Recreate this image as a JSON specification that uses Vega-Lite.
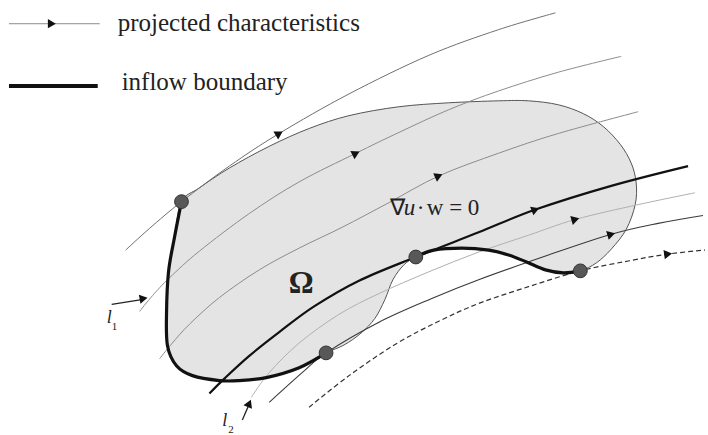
{
  "$schema": "https://vega.github.io/schema/vega-lite/v6.json",
  "width": 708,
  "height": 435,
  "padding": 0,
  "autosize": {"type": "fit", "contains": "padding"},
  "background": "white",
  "config": {"view": {"stroke": null}},
  "datasets": {
    "domain": [
      {"i":0,"x":182,"y":204},{"i":1,"x":200,"y":190},{"i":2,"x":230,"y":170},{"i":3,"x":270,"y":148},{"i":4,"x":310,"y":130},{"i":5,"x":350,"y":117},{"i":6,"x":400,"y":108},{"i":7,"x":450,"y":104},{"i":8,"x":500,"y":102},{"i":9,"x":530,"y":102},{"i":10,"x":560,"y":106},{"i":11,"x":585,"y":115},{"i":12,"x":605,"y":128},{"i":13,"x":622,"y":146},{"i":14,"x":633,"y":165},{"i":15,"x":638,"y":185},{"i":16,"x":637,"y":207},{"i":17,"x":628,"y":232},{"i":18,"x":613,"y":252},{"i":19,"x":598,"y":266},{"i":20,"x":582,"y":274},{"i":21,"x":565,"y":277},{"i":22,"x":547,"y":273},{"i":23,"x":528,"y":265},{"i":24,"x":510,"y":258},{"i":25,"x":490,"y":253},{"i":26,"x":463,"y":251},{"i":27,"x":435,"y":253},{"i":28,"x":417,"y":260},{"i":29,"x":405,"y":268},{"i":30,"x":394,"y":283},{"i":31,"x":386,"y":303},{"i":32,"x":376,"y":322},{"i":33,"x":362,"y":337},{"i":34,"x":345,"y":349},{"i":35,"x":327,"y":357},{"i":36,"x":300,"y":372},{"i":37,"x":267,"y":382},{"i":38,"x":240,"y":385},{"i":39,"x":220,"y":385},{"i":40,"x":193,"y":380},{"i":41,"x":177,"y":370},{"i":42,"x":168,"y":350},{"i":43,"x":167,"y":317},{"i":44,"x":169,"y":275},{"i":45,"x":175,"y":240}
    ],
    "lines": [
      {"id":"L1","i":0,"x":126,"y":253},{"id":"L1","i":1,"x":150,"y":231},{"id":"L1","i":2,"x":182,"y":204},{"id":"L1","i":3,"x":230,"y":168},{"id":"L1","i":4,"x":280,"y":135},{"id":"L1","i":5,"x":350,"y":95},{"id":"L1","i":6,"x":430,"y":56},{"id":"L1","i":7,"x":500,"y":30},{"id":"L1","i":8,"x":557,"y":13},
      {"id":"La","i":0,"x":140,"y":315},{"id":"La","i":1,"x":153,"y":299},{"id":"La","i":2,"x":170,"y":281},{"id":"La","i":3,"x":200,"y":254},{"id":"La","i":4,"x":250,"y":216},{"id":"La","i":5,"x":300,"y":184},{"id":"La","i":6,"x":357,"y":155},{"id":"La","i":7,"x":400,"y":134},{"id":"La","i":8,"x":450,"y":111},{"id":"La","i":9,"x":500,"y":92},{"id":"La","i":10,"x":560,"y":73},{"id":"La","i":11,"x":623,"y":57},
      {"id":"Lb","i":0,"x":160,"y":363},{"id":"Lb","i":1,"x":172,"y":348},{"id":"Lb","i":2,"x":190,"y":328},{"id":"Lb","i":3,"x":220,"y":301},{"id":"Lb","i":4,"x":260,"y":273},{"id":"Lb","i":5,"x":300,"y":251},{"id":"Lb","i":6,"x":343,"y":230},{"id":"Lb","i":7,"x":390,"y":205},{"id":"Lb","i":8,"x":440,"y":178},{"id":"Lb","i":9,"x":500,"y":155},{"id":"Lb","i":10,"x":560,"y":135},{"id":"Lb","i":11,"x":640,"y":113},
      {"id":"Lc","i":0,"x":252,"y":402},{"id":"Lc","i":1,"x":270,"y":377},{"id":"Lc","i":2,"x":300,"y":347},{"id":"Lc","i":3,"x":340,"y":318},{"id":"Lc","i":4,"x":380,"y":297},{"id":"Lc","i":5,"x":430,"y":275},{"id":"Lc","i":6,"x":480,"y":255},{"id":"Lc","i":7,"x":530,"y":238},{"id":"Lc","i":8,"x":577,"y":222},{"id":"Lc","i":9,"x":640,"y":207},{"id":"Lc","i":10,"x":697,"y":195},
      {"id":"Ld","i":0,"x":270,"y":407},{"id":"Ld","i":1,"x":303,"y":377},{"id":"Ld","i":2,"x":327,"y":357},{"id":"Ld","i":3,"x":380,"y":326},{"id":"Ld","i":4,"x":433,"y":302},{"id":"Ld","i":5,"x":480,"y":283},{"id":"Ld","i":6,"x":550,"y":258},{"id":"Ld","i":7,"x":613,"y":237},{"id":"Ld","i":8,"x":660,"y":226},{"id":"Ld","i":9,"x":705,"y":218},
      {"id":"Dash","i":0,"x":310,"y":412},{"id":"Dash","i":1,"x":350,"y":380},{"id":"Dash","i":2,"x":397,"y":348},{"id":"Dash","i":3,"x":440,"y":325},{"id":"Dash","i":4,"x":480,"y":307},{"id":"Dash","i":5,"x":530,"y":290},{"id":"Dash","i":6,"x":582,"y":274},{"id":"Dash","i":7,"x":630,"y":264},{"id":"Dash","i":8,"x":670,"y":257},{"id":"Dash","i":9,"x":707,"y":253},
      {"id":"Grad","i":0,"x":210,"y":398},{"id":"Grad","i":1,"x":225,"y":383},{"id":"Grad","i":2,"x":250,"y":360},{"id":"Grad","i":3,"x":280,"y":336},{"id":"Grad","i":4,"x":315,"y":310},{"id":"Grad","i":5,"x":360,"y":284},{"id":"Grad","i":6,"x":417,"y":260},{"id":"Grad","i":7,"x":480,"y":235},{"id":"Grad","i":8,"x":537,"y":212},{"id":"Grad","i":9,"x":613,"y":188},{"id":"Grad","i":10,"x":690,"y":168},
      {"id":"InA","i":0,"x":417,"y":260},{"id":"InA","i":1,"x":435,"y":253},{"id":"InA","i":2,"x":463,"y":251},{"id":"InA","i":3,"x":490,"y":253},{"id":"InA","i":4,"x":510,"y":258},{"id":"InA","i":5,"x":528,"y":265},{"id":"InA","i":6,"x":547,"y":273},{"id":"InA","i":7,"x":565,"y":276},{"id":"InA","i":8,"x":582,"y":274},
      {"id":"InB","i":0,"x":327,"y":357},{"id":"InB","i":1,"x":300,"y":372},{"id":"InB","i":2,"x":267,"y":382},{"id":"InB","i":3,"x":240,"y":385},{"id":"InB","i":4,"x":220,"y":385},{"id":"InB","i":5,"x":193,"y":380},{"id":"InB","i":6,"x":177,"y":370},{"id":"InB","i":7,"x":168,"y":350},{"id":"InB","i":8,"x":167,"y":317},{"id":"InB","i":9,"x":169,"y":275},{"id":"InB","i":10,"x":175,"y":240},{"id":"InB","i":11,"x":182,"y":204},
      {"id":"LegThin","i":0,"x":9,"y":24},{"id":"LegThin","i":1,"x":100,"y":24},
      {"id":"LegThick","i":0,"x":9,"y":87},{"id":"LegThick","i":1,"x":98,"y":87},
      {"id":"Ar1","i":0,"x":112,"y":308},{"id":"Ar1","i":1,"x":142,"y":303},
      {"id":"Ar2","i":0,"x":243,"y":425},{"id":"Ar2","i":1,"x":249,"y":411}
    ],
    "nodes": [
      {"x":182,"y":204},{"x":417,"y":260},{"x":582,"y":274},{"x":327,"y":357}
    ],
    "arrows": [
      {"x":52,"y":24,"heading":0},
      {"x":280,"y":135,"heading":-31},
      {"x":357,"y":155,"heading":-27},
      {"x":440,"y":178,"heading":-24},
      {"x":537,"y":212,"heading":-21},
      {"x":577,"y":222,"heading":-16},
      {"x":613,"y":237,"heading":-16},
      {"x":670,"y":257,"heading":-8},
      {"x":144,"y":302,"heading":-10},
      {"x":250,"y":408,"heading":-67}
    ]
  },
  "encoding": {
    "x": {"field": "x", "type": "quantitative", "scale": {"domain": [0, 708], "nice": false, "zero": false}, "axis": null},
    "y": {"field": "y", "type": "quantitative", "scale": {"domain": [0, 435], "reverse": true, "nice": false, "zero": false}, "axis": null}
  },
  "layer": [
    {
      "data": {"name": "domain"},
      "mark": {"type": "line", "fill": "#e4e4e4", "stroke": "#555555", "strokeWidth": 1, "interpolate": "cardinal-closed"},
      "encoding": {"order": {"field": "i", "type": "quantitative"}}
    },
    {
      "data": {"name": "lines"},
      "transform": [{"filter": {"field": "id", "oneOf": ["L1"]}}],
      "mark": {"type": "line", "stroke": "#707070", "strokeWidth": 1, "interpolate": "cardinal"},
      "encoding": {"order": {"field": "i", "type": "quantitative"}, "detail": {"field": "id"}}
    },
    {
      "data": {"name": "lines"},
      "transform": [{"filter": {"field": "id", "oneOf": ["La", "Lb"]}}],
      "mark": {"type": "line", "stroke": "#8c8c8c", "strokeWidth": 1, "interpolate": "cardinal"},
      "encoding": {"order": {"field": "i", "type": "quantitative"}, "detail": {"field": "id"}}
    },
    {
      "data": {"name": "lines"},
      "transform": [{"filter": {"field": "id", "oneOf": ["Lc"]}}],
      "mark": {"type": "line", "stroke": "#b0b0b0", "strokeWidth": 1, "interpolate": "cardinal"},
      "encoding": {"order": {"field": "i", "type": "quantitative"}, "detail": {"field": "id"}}
    },
    {
      "data": {"name": "lines"},
      "transform": [{"filter": {"field": "id", "oneOf": ["Ld"]}}],
      "mark": {"type": "line", "stroke": "#3a3a3a", "strokeWidth": 1.1, "interpolate": "cardinal"},
      "encoding": {"order": {"field": "i", "type": "quantitative"}, "detail": {"field": "id"}}
    },
    {
      "data": {"name": "lines"},
      "transform": [{"filter": {"field": "id", "oneOf": ["Dash"]}}],
      "mark": {"type": "line", "stroke": "#333333", "strokeWidth": 1.2, "strokeDash": [5, 3], "interpolate": "cardinal"},
      "encoding": {"order": {"field": "i", "type": "quantitative"}, "detail": {"field": "id"}}
    },
    {
      "data": {"name": "lines"},
      "transform": [{"filter": {"field": "id", "oneOf": ["Grad"]}}],
      "mark": {"type": "line", "stroke": "#111111", "strokeWidth": 2.2, "interpolate": "cardinal"},
      "encoding": {"order": {"field": "i", "type": "quantitative"}, "detail": {"field": "id"}}
    },
    {
      "data": {"name": "lines"},
      "transform": [{"filter": {"field": "id", "oneOf": ["InA", "InB"]}}],
      "mark": {"type": "line", "stroke": "#111111", "strokeWidth": 3.2, "interpolate": "cardinal"},
      "encoding": {"order": {"field": "i", "type": "quantitative"}, "detail": {"field": "id"}}
    },
    {
      "data": {"name": "lines"},
      "transform": [{"filter": {"field": "id", "oneOf": ["LegThin"]}}],
      "mark": {"type": "line", "stroke": "#8c8c8c", "strokeWidth": 1},
      "encoding": {"order": {"field": "i", "type": "quantitative"}, "detail": {"field": "id"}}
    },
    {
      "data": {"name": "lines"},
      "transform": [{"filter": {"field": "id", "oneOf": ["LegThick"]}}],
      "mark": {"type": "line", "stroke": "#111111", "strokeWidth": 4},
      "encoding": {"order": {"field": "i", "type": "quantitative"}, "detail": {"field": "id"}}
    },
    {
      "data": {"name": "lines"},
      "transform": [{"filter": {"field": "id", "oneOf": ["Ar1", "Ar2"]}}],
      "mark": {"type": "line", "stroke": "#222222", "strokeWidth": 1.3},
      "encoding": {"order": {"field": "i", "type": "quantitative"}, "detail": {"field": "id"}}
    },
    {
      "data": {"name": "nodes"},
      "mark": {"type": "circle", "size": 190, "fill": "#585858", "stroke": "#333333", "strokeWidth": 1, "opacity": 1},
      "encoding": {}
    },
    {
      "data": {"name": "arrows"},
      "mark": {"type": "point", "shape": "triangle-right", "filled": true, "fill": "#111111", "size": 85, "opacity": 1, "strokeWidth": 0},
      "encoding": {"angle": {"field": "heading", "type": "quantitative", "scale": null}}
    },
    {
      "data": {"values": [{"label": "projected characteristics", "x": 118, "y": 31}, {"label": "inflow boundary", "x": 122, "y": 91}]},
      "mark": {"type": "text", "font": "Liberation Serif", "fontSize": 25, "align": "left", "baseline": "alphabetic", "fill": "#222222"},
      "encoding": {"text": {"field": "label"}}
    },
    {
      "data": {"values": [{"label": "Ω", "x": 302, "y": 296}]},
      "mark": {"type": "text", "font": "Liberation Serif", "fontSize": 31, "fontWeight": "bold", "align": "center", "baseline": "alphabetic", "fill": "#222222"},
      "encoding": {"text": {"field": "label"}}
    },
    {
      "data": {"values": [{"label": "∇", "x": 391, "y": 217}, {"label": "·", "x": 418, "y": 217}, {"label": "w = 0", "x": 428, "y": 217}]},
      "mark": {"type": "text", "font": "Liberation Serif", "fontSize": 23, "align": "left", "baseline": "alphabetic", "fill": "#222222"},
      "encoding": {"text": {"field": "label"}}
    },
    {
      "data": {"values": [{"label": "u", "x": 405, "y": 217}]},
      "mark": {"type": "text", "font": "Liberation Serif", "fontSize": 23, "fontStyle": "italic", "align": "left", "baseline": "alphabetic", "fill": "#222222"},
      "encoding": {"text": {"field": "label"}}
    },
    {
      "data": {"values": [{"label": "l", "x": 107, "y": 327}, {"label": "l", "x": 223, "y": 431}]},
      "mark": {"type": "text", "font": "Liberation Serif", "fontSize": 18, "fontStyle": "italic", "align": "left", "baseline": "alphabetic", "fill": "#222222"},
      "encoding": {"text": {"field": "label"}}
    },
    {
      "data": {"values": [{"label": "1", "x": 112, "y": 334}, {"label": "2", "x": 229, "y": 438}]},
      "mark": {"type": "text", "font": "Liberation Serif", "fontSize": 11, "align": "left", "baseline": "alphabetic", "fill": "#222222"},
      "encoding": {"text": {"field": "label"}}
    }
  ]
}
